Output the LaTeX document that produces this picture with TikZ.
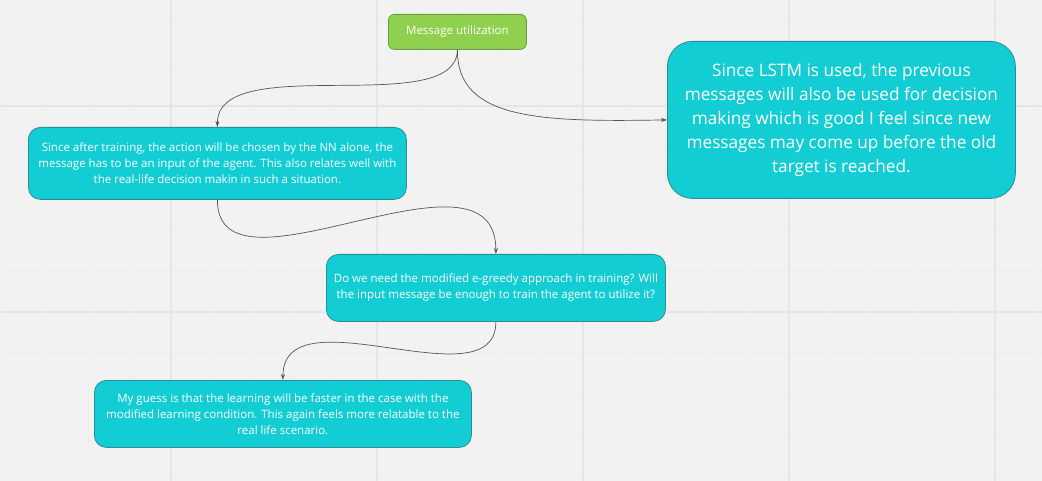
\documentclass[tikz,border=0pt]{standalone}
\usepackage{fontspec}
\setmainfont{Open Sans}
\usetikzlibrary{arrows.meta}
\definecolor{bg}{HTML}{F2F2F2}
\definecolor{gridminor}{HTML}{EEEEEE}
\definecolor{gridmajor}{HTML}{E5E5E5}
\definecolor{teal}{HTML}{13CDD4}
\definecolor{tealborder}{HTML}{2E8D92}
\definecolor{grn}{HTML}{8FD14F}
\definecolor{grnborder}{HTML}{6C9E3C}
\definecolor{conn}{HTML}{555555}
\tikzset{
  card/.style={draw=tealborder, fill=teal, line width=0.8pt, text=white, align=center, inner sep=0pt, anchor=north west},
  smalltext/.style={font=\fontsize{11.5}{16}\selectfont},
  bigtext/.style={font=\fontsize{17.2}{24}\selectfont},
  conn/.style={draw=conn, line width=0.7pt, -{Stealth[length=6pt,width=4pt]}},
}
\begin{document}
\begin{tikzpicture}[x=1pt,y=-1pt]
\fill[bg] (0,0) rectangle (1042,481);
\useasboundingbox (0,0) rectangle (1042,481);
% grid
\foreach \i in {-4,...,21} {
  \draw[gridminor, line width=0.8pt] ({171+41.2*\i},0) -- ({171+41.2*\i},481);
}
\foreach \j in {-7,...,4} {
  \draw[gridminor, line width=0.8pt] (0,{312+41.2*\j}) -- (1042,{312+41.2*\j});
}
\foreach \i in {0,...,4} {
  \draw[gridmajor, line width=1.2pt] ({171+206*\i},0) -- ({171+206*\i},481);
}
\foreach \j in {-1,0,1} {
  \draw[gridmajor, line width=1.2pt] (0,{312+206*\j}) -- (1042,{312+206*\j});
}
% nodes
\node[draw=grnborder, fill=grn, line width=0.8pt, rounded corners=6pt, text=white, inner sep=0pt,
      minimum width=138pt, minimum height=35pt, anchor=north west,
      font=\fontsize{11.5}{14}\selectfont] (mu) at (388,14) {Message utilization};
\node[card, rounded corners=25pt, minimum width=348pt, minimum height=157pt, bigtext] (lstm) at (667,41)
  {Since LSTM is used, the previous\\messages will also be used for decision\\making which is good I feel since new\\messages may come up before the old\\target is reached.};
\node[card, rounded corners=12pt, minimum width=378pt, minimum height=72pt, smalltext] (a) at (28,127)
  {Since after training, the action will be chosen by the NN alone, the\\message has to be an input of the agent. This also relates well with\\the real-life decision makin in such a situation.};
\node[card, rounded corners=12pt, minimum width=339pt, minimum height=67pt, smalltext] (b) at (326,254)
  {Do we need the modified e-greedy approach in training? Will\\the input message be enough to train the agent to utilize it?};
\node[card, rounded corners=12pt, minimum width=377pt, minimum height=67pt, smalltext] (c) at (94,380)
  {My guess is that the learning will be faster in the case with the\\modified learning condition. This again feels more relatable to the\\real life scenario.};
% connectors
\draw[conn] (mu.south) .. controls (457,120) and (217,50) .. (a.north);
\draw[conn] (mu.south) .. controls (457,120) and (540,122) .. (lstm.west);
\draw[conn] (a.south) .. controls (217,310) and (496,130) .. (b.north);
\draw[conn] (b.south) .. controls (496,405) and (283,290) .. (c.north);
\end{tikzpicture}
\end{document}
